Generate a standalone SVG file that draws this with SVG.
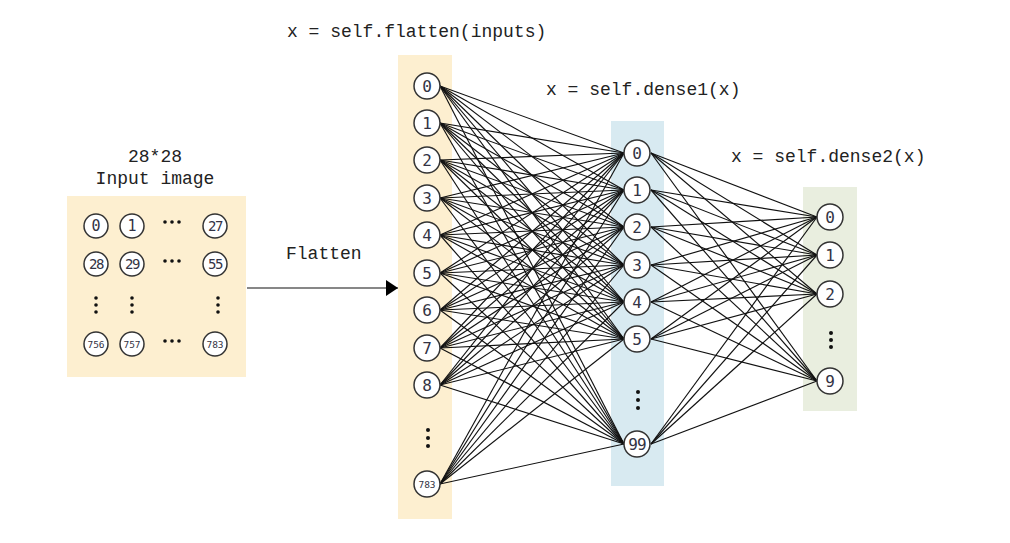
<svg xmlns="http://www.w3.org/2000/svg" width="1010" height="543" viewBox="0 0 1010 543">
<style>
.lbl{font-family:"Liberation Mono",monospace;font-size:18px;fill:#222}
.n circle{fill:#fff;stroke:#333;stroke-width:1.5}
.n text{font-family:"DejaVu Sans Mono","Liberation Mono",monospace;font-size:16px;fill:#334;text-anchor:middle;dominant-baseline:central}
.g text{font-size:15px}
.n text.s{font-size:9.5px}
.n text.m{font-size:14px;letter-spacing:-1.5px}
.e line{stroke:#111;stroke-width:1.15}
.d circle{fill:#111}
</style>
<defs>
<marker id="ah" viewBox="0 0 12 16" refX="12" refY="8" markerWidth="12" markerHeight="16" markerUnits="userSpaceOnUse" orient="auto"><path d="M0,0 L12,8 L0,16 Z" fill="#000"/></marker>
</defs>
<rect x="67" y="196" width="179" height="181" fill="#fdefd0"/>
<rect x="398" y="55" width="54" height="464" fill="#fdefd0"/>
<rect x="611" y="121" width="53" height="365" fill="#d8eaf1"/>
<rect x="803" y="187" width="54" height="224" fill="#e9eedf"/>
<text class="lbl" x="287" y="37">x = self.flatten(inputs)</text>
<text class="lbl" x="546" y="95">x = self.dense1(x)</text>
<text class="lbl" x="731" y="162">x = self.dense2(x)</text>
<text class="lbl" x="155" y="162" text-anchor="middle">28*28</text>
<text class="lbl" x="155" y="184" text-anchor="middle">Input image</text>
<text class="lbl" x="286" y="259">Flatten</text>
<g id="connectors" class="e">
<line x1="247" y1="288" x2="398" y2="288" stroke-width="1.5" marker-end="url(#ah)"/>
<g id="l1l2">
<line x1="440" y1="86" x2="624" y2="153"/><line x1="440" y1="86" x2="624" y2="190"/><line x1="440" y1="86" x2="624" y2="227"/><line x1="440" y1="86" x2="624" y2="265"/><line x1="440" y1="86" x2="624" y2="302"/><line x1="440" y1="86" x2="624" y2="339"/><line x1="440" y1="86" x2="624" y2="444"/>
<line x1="440" y1="123" x2="624" y2="153"/><line x1="440" y1="123" x2="624" y2="190"/><line x1="440" y1="123" x2="624" y2="227"/><line x1="440" y1="123" x2="624" y2="265"/><line x1="440" y1="123" x2="624" y2="302"/><line x1="440" y1="123" x2="624" y2="339"/><line x1="440" y1="123" x2="624" y2="444"/>
<line x1="440" y1="160" x2="624" y2="153"/><line x1="440" y1="160" x2="624" y2="190"/><line x1="440" y1="160" x2="624" y2="227"/><line x1="440" y1="160" x2="624" y2="265"/><line x1="440" y1="160" x2="624" y2="302"/><line x1="440" y1="160" x2="624" y2="339"/><line x1="440" y1="160" x2="624" y2="444"/>
<line x1="440" y1="198" x2="624" y2="153"/><line x1="440" y1="198" x2="624" y2="190"/><line x1="440" y1="198" x2="624" y2="227"/><line x1="440" y1="198" x2="624" y2="265"/><line x1="440" y1="198" x2="624" y2="302"/><line x1="440" y1="198" x2="624" y2="339"/><line x1="440" y1="198" x2="624" y2="444"/>
<line x1="440" y1="235" x2="624" y2="153"/><line x1="440" y1="235" x2="624" y2="190"/><line x1="440" y1="235" x2="624" y2="227"/><line x1="440" y1="235" x2="624" y2="265"/><line x1="440" y1="235" x2="624" y2="302"/><line x1="440" y1="235" x2="624" y2="339"/><line x1="440" y1="235" x2="624" y2="444"/>
<line x1="440" y1="273" x2="624" y2="153"/><line x1="440" y1="273" x2="624" y2="190"/><line x1="440" y1="273" x2="624" y2="227"/><line x1="440" y1="273" x2="624" y2="265"/><line x1="440" y1="273" x2="624" y2="302"/><line x1="440" y1="273" x2="624" y2="339"/><line x1="440" y1="273" x2="624" y2="444"/>
<line x1="440" y1="310" x2="624" y2="153"/><line x1="440" y1="310" x2="624" y2="190"/><line x1="440" y1="310" x2="624" y2="227"/><line x1="440" y1="310" x2="624" y2="265"/><line x1="440" y1="310" x2="624" y2="302"/><line x1="440" y1="310" x2="624" y2="339"/><line x1="440" y1="310" x2="624" y2="444"/>
<line x1="440" y1="348" x2="624" y2="153"/><line x1="440" y1="348" x2="624" y2="190"/><line x1="440" y1="348" x2="624" y2="227"/><line x1="440" y1="348" x2="624" y2="265"/><line x1="440" y1="348" x2="624" y2="302"/><line x1="440" y1="348" x2="624" y2="339"/><line x1="440" y1="348" x2="624" y2="444"/>
<line x1="440" y1="385" x2="624" y2="153"/><line x1="440" y1="385" x2="624" y2="190"/><line x1="440" y1="385" x2="624" y2="227"/><line x1="440" y1="385" x2="624" y2="265"/><line x1="440" y1="385" x2="624" y2="302"/><line x1="440" y1="385" x2="624" y2="339"/><line x1="440" y1="385" x2="624" y2="444"/>
<line x1="440" y1="484" x2="624" y2="153"/><line x1="440" y1="484" x2="624" y2="190"/><line x1="440" y1="484" x2="624" y2="227"/><line x1="440" y1="484" x2="624" y2="265"/><line x1="440" y1="484" x2="624" y2="302"/><line x1="440" y1="484" x2="624" y2="339"/><line x1="440" y1="484" x2="624" y2="444"/>
</g>
<g id="l2l3">
<line x1="651" y1="153" x2="817" y2="217"/><line x1="651" y1="153" x2="817" y2="255"/><line x1="651" y1="153" x2="817" y2="294"/><line x1="651" y1="153" x2="817" y2="381"/>
<line x1="651" y1="190" x2="817" y2="217"/><line x1="651" y1="190" x2="817" y2="255"/><line x1="651" y1="190" x2="817" y2="294"/><line x1="651" y1="190" x2="817" y2="381"/>
<line x1="651" y1="227" x2="817" y2="217"/><line x1="651" y1="227" x2="817" y2="255"/><line x1="651" y1="227" x2="817" y2="294"/><line x1="651" y1="227" x2="817" y2="381"/>
<line x1="651" y1="265" x2="817" y2="217"/><line x1="651" y1="265" x2="817" y2="255"/><line x1="651" y1="265" x2="817" y2="294"/><line x1="651" y1="265" x2="817" y2="381"/>
<line x1="651" y1="302" x2="817" y2="217"/><line x1="651" y1="302" x2="817" y2="255"/><line x1="651" y1="302" x2="817" y2="294"/><line x1="651" y1="302" x2="817" y2="381"/>
<line x1="651" y1="339" x2="817" y2="217"/><line x1="651" y1="339" x2="817" y2="255"/><line x1="651" y1="339" x2="817" y2="294"/><line x1="651" y1="339" x2="817" y2="381"/>
<line x1="651" y1="444" x2="817" y2="217"/><line x1="651" y1="444" x2="817" y2="255"/><line x1="651" y1="444" x2="817" y2="294"/><line x1="651" y1="444" x2="817" y2="381"/>
</g>
</g>
<g id="input-grid">
<g id="p0" class="n g"><circle cx="96" cy="226" r="12"/><text x="96" y="226">0</text></g>
<g id="p1" class="n g"><circle cx="132" cy="226" r="12"/><text x="132" y="226">1</text></g>
<g id="p27" class="n g"><circle cx="215" cy="226" r="12"/><text class="m" x="215" y="226">27</text></g>
<g id="p28" class="n g"><circle cx="96" cy="264" r="12"/><text class="m" x="96" y="264">28</text></g>
<g id="p29" class="n g"><circle cx="132" cy="264" r="12"/><text class="m" x="132" y="264">29</text></g>
<g id="p55" class="n g"><circle cx="215" cy="264" r="12"/><text class="m" x="215" y="264">55</text></g>
<g id="p756" class="n g"><circle cx="96" cy="344" r="12"/><text class="s" x="96" y="344">756</text></g>
<g id="p757" class="n g"><circle cx="132" cy="344" r="12"/><text class="s" x="132" y="344">757</text></g>
<g id="p783" class="n g"><circle cx="215" cy="344" r="12"/><text class="s" x="215" y="344">783</text></g>
<g class="d">
<circle cx="165" cy="222" r="1.8"/><circle cx="172" cy="222" r="1.8"/><circle cx="179" cy="222" r="1.8"/>
<circle cx="165" cy="261" r="1.8"/><circle cx="172" cy="261" r="1.8"/><circle cx="179" cy="261" r="1.8"/>
<circle cx="165" cy="341" r="1.8"/><circle cx="172" cy="341" r="1.8"/><circle cx="179" cy="341" r="1.8"/>
<circle cx="96" cy="298" r="1.8"/><circle cx="96" cy="305" r="1.8"/><circle cx="96" cy="312" r="1.8"/>
<circle cx="132" cy="298" r="1.8"/><circle cx="132" cy="305" r="1.8"/><circle cx="132" cy="312" r="1.8"/>
<circle cx="218" cy="298" r="1.8"/><circle cx="218" cy="305" r="1.8"/><circle cx="218" cy="312" r="1.8"/>
</g>
</g>
<g id="layer1">
<g id="a0" class="n"><circle cx="427" cy="86" r="13"/><text x="427" y="86">0</text></g>
<g id="a1" class="n"><circle cx="427" cy="123" r="13"/><text x="427" y="123">1</text></g>
<g id="a2" class="n"><circle cx="427" cy="160" r="13"/><text x="427" y="160">2</text></g>
<g id="a3" class="n"><circle cx="427" cy="198" r="13"/><text x="427" y="198">3</text></g>
<g id="a4" class="n"><circle cx="427" cy="235" r="13"/><text x="427" y="235">4</text></g>
<g id="a5" class="n"><circle cx="427" cy="273" r="13"/><text x="427" y="273">5</text></g>
<g id="a6" class="n"><circle cx="427" cy="310" r="13"/><text x="427" y="310">6</text></g>
<g id="a7" class="n"><circle cx="427" cy="348" r="13"/><text x="427" y="348">7</text></g>
<g id="a8" class="n"><circle cx="427" cy="385" r="13"/><text x="427" y="385">8</text></g>
<g id="a783" class="n"><circle cx="427" cy="484" r="13"/><text class="s" x="427" y="484">783</text></g>
<g class="d"><circle cx="428" cy="430" r="2"/><circle cx="428" cy="438" r="2"/><circle cx="428" cy="446" r="2"/></g>
</g>
<g id="layer2">
<g id="b0" class="n"><circle cx="637" cy="153" r="13"/><text x="637" y="153">0</text></g>
<g id="b1" class="n"><circle cx="637" cy="190" r="13"/><text x="637" y="190">1</text></g>
<g id="b2" class="n"><circle cx="637" cy="227" r="13"/><text x="637" y="227">2</text></g>
<g id="b3" class="n"><circle cx="637" cy="265" r="13"/><text x="637" y="265">3</text></g>
<g id="b4" class="n"><circle cx="637" cy="302" r="13"/><text x="637" y="302">4</text></g>
<g id="b5" class="n"><circle cx="637" cy="339" r="13"/><text x="637" y="339">5</text></g>
<g id="b99" class="n"><circle cx="637" cy="444" r="13"/><text x="637" y="444" letter-spacing="-1">99</text></g>
<g class="d"><circle cx="638" cy="392" r="2"/><circle cx="638" cy="400" r="2"/><circle cx="638" cy="408" r="2"/></g>
</g>
<g id="layer3">
<g id="c0" class="n"><circle cx="830" cy="217" r="13"/><text x="830" y="217">0</text></g>
<g id="c1" class="n"><circle cx="830" cy="255" r="13"/><text x="830" y="255">1</text></g>
<g id="c2" class="n"><circle cx="830" cy="294" r="13"/><text x="830" y="294">2</text></g>
<g id="c9" class="n"><circle cx="830" cy="381" r="13"/><text x="830" y="381">9</text></g>
<g class="d"><circle cx="831" cy="333" r="2"/><circle cx="831" cy="340" r="2"/><circle cx="831" cy="347" r="2"/></g>
</g>
</svg>
